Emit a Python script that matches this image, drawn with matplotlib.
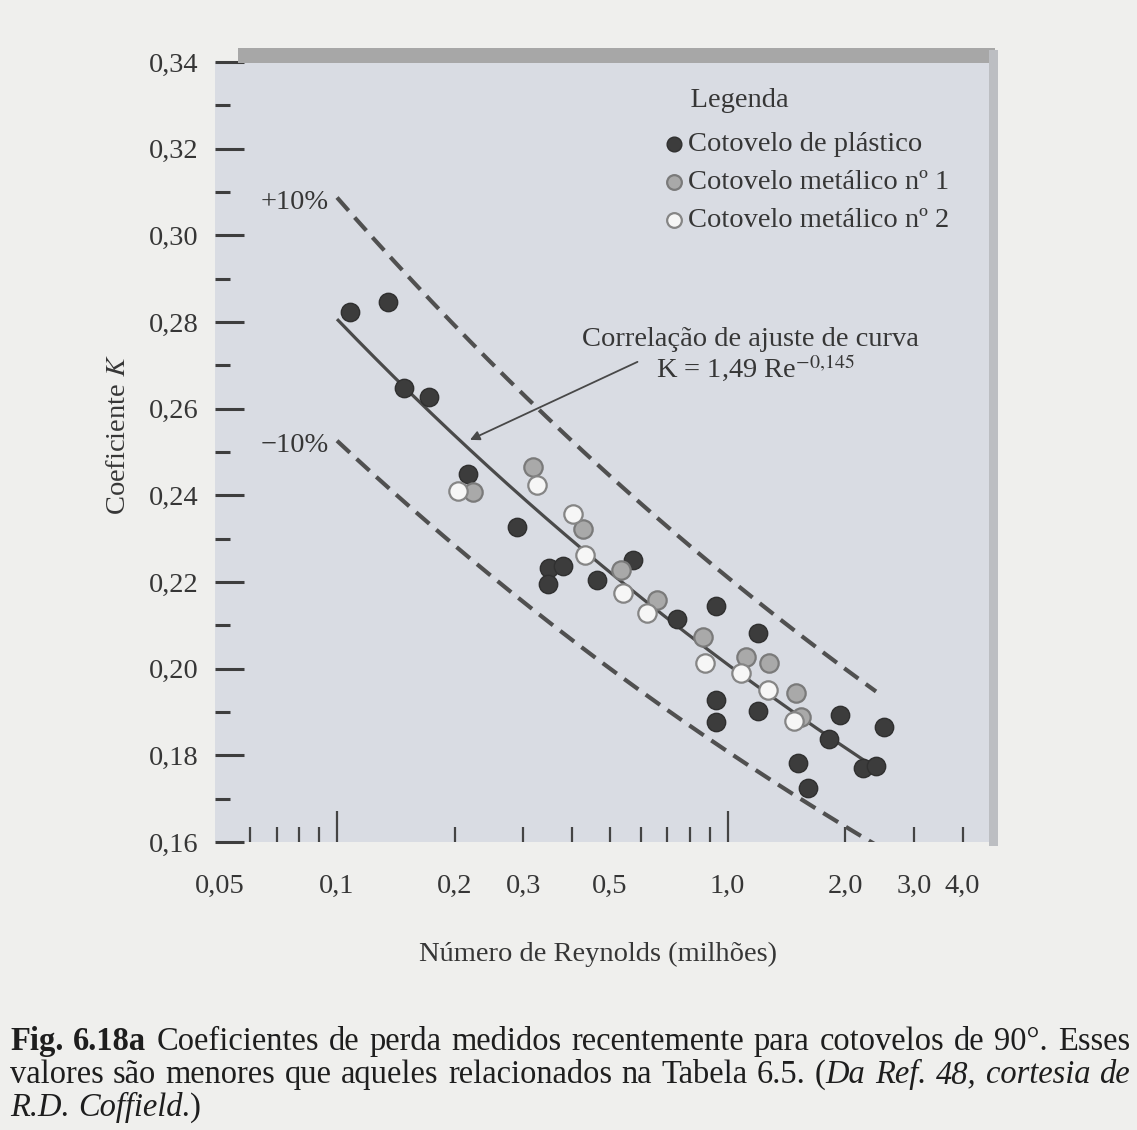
import matplotlib
matplotlib.use("Agg")
import matplotlib.pyplot as plt
import numpy as np
from matplotlib.ticker import FixedLocator, FixedFormatter, NullFormatter
from matplotlib.patches import Rectangle

plt.rcParams['font.family'] = ['Liberation Serif', 'DejaVu Serif']
plt.rcParams['mathtext.fontset'] = 'stix'

# ---------------- data (Re in millions, K) ----------------
plastic_re = [0.108, 0.135, 0.148, 0.172, 0.217, 0.289, 0.348, 0.378, 0.346, 0.464,
              0.571, 0.744, 0.932, 0.935, 0.935, 1.194, 1.194, 1.512, 1.604, 1.815,
              1.938, 2.219, 2.396, 2.512]
plastic_k = [0.2823, 0.2846, 0.2648, 0.2627, 0.2449, 0.2327, 0.2232, 0.2237, 0.2195, 0.2205,
             0.2251, 0.2115, 0.2145, 0.1928, 0.1877, 0.2082, 0.1902, 0.1782, 0.1725, 0.1838,
             0.1893, 0.1771, 0.1775, 0.1865]
metal1_re = [0.223, 0.318, 0.427, 0.532, 0.658, 0.863, 1.112, 1.274, 1.494, 1.539]
metal1_k = [0.2408, 0.2465, 0.2322, 0.2228, 0.2159, 0.2073, 0.2027, 0.2013, 0.1944, 0.1888]
metal2_re = [0.204, 0.326, 0.403, 0.432, 0.541, 0.623, 0.873, 1.080, 1.266, 1.476]
metal2_k = [0.2410, 0.2424, 0.2357, 0.2262, 0.2175, 0.2129, 0.2013, 0.1990, 0.1951, 0.1879]

series_labels = ["Cotovelo de plástico", "Cotovelo metálico nº 1", "Cotovelo metálico nº 2"]

fit_coef = 1.49
fit_exp = -0.145
fit_re_start = 0.1
fit_re_end = 2.4
band_frac = 0.10

x_major = [0.05, 0.1, 0.2, 0.3, 0.5, 1.0, 2.0, 3.0, 4.0]
x_labels = ['0,05', '0,1', '0,2', '0,3', '0,5', '1,0', '2,0', '3,0', '4,0']
x_long = [0.1, 1.0]
x_minor = [0.06, 0.07, 0.08, 0.09, 0.4, 0.6, 0.7, 0.8, 0.9]
y_major = [0.16, 0.18, 0.20, 0.22, 0.24, 0.26, 0.28, 0.30, 0.32, 0.34]
y_labels = ['0,16', '0,18', '0,20', '0,22', '0,24', '0,26', '0,28', '0,30', '0,32', '0,34']
y_minor = [0.17, 0.19, 0.21, 0.23, 0.25, 0.27, 0.29, 0.31, 0.33]

# ---------------- figure ----------------
W, H = 1137, 1130
FS = 20.5
TXT = '#363636'
fig = plt.figure(figsize=(W / 100, H / 100), dpi=100, facecolor='#efefed')


def frac_rect(x0, y0, x1, y1):
    return [x0 / W, 1 - y1 / H, (x1 - x0) / W, (y1 - y0) / H]


# decorative top bar and right strip of the printed chart
fig.patches.append(Rectangle((238 / W, 1 - 63 / H), (995 - 238) / W, 15 / H,
                             transform=fig.transFigure, facecolor='#a7a7a7',
                             edgecolor='none', zorder=0))
fig.patches.append(Rectangle((989 / W, 1 - 846 / H), 9 / W, (846 - 50) / H,
                             transform=fig.transFigure, facecolor='#bcbec2',
                             edgecolor='none', zorder=0))

ax = fig.add_axes(frac_rect(215, 62, 990, 842))
ax.set_facecolor('#d9dce3')
for s in ax.spines.values():
    s.set_visible(False)

ax.set_xscale('log')
ax.set_xlim(0.0487, 4.70)
ax.set_ylim(0.16, 0.34)

# fitted curve and +/-10% band
re_line = np.geomspace(fit_re_start, fit_re_end, 200)
k_line = fit_coef * (re_line * 1e6) ** fit_exp
ax.plot(re_line, k_line, color='#4a4a4a', lw=2.3, zorder=2, solid_capstyle='butt')
ax.plot(re_line, k_line * (1 + band_frac), color='#505050', lw=3.0,
        dashes=(4.2, 2.2), zorder=2)
ax.plot(re_line, k_line * (1 - band_frac), color='#505050', lw=3.0,
        dashes=(4.2, 2.2), zorder=2)

# data points
ms = 175
h_p = ax.scatter(plastic_re, plastic_k, s=ms, facecolor='#3c3c3c', edgecolor='#303030',
                 linewidth=1.0, zorder=3, label=series_labels[0])
h_m1 = ax.scatter(metal1_re, metal1_k, s=ms, facecolor='#a9a9a9', edgecolor='#7a7a7a',
                  linewidth=1.6, zorder=4, label=series_labels[1])
h_m2 = ax.scatter(metal2_re, metal2_k, s=ms, facecolor='#f6f6f6', edgecolor='#858585',
                  linewidth=1.6, zorder=5, label=series_labels[2])

# ticks
ax.xaxis.set_major_locator(FixedLocator(x_major))
ax.xaxis.set_major_formatter(FixedFormatter(x_labels))
ax.xaxis.set_minor_locator(FixedLocator(x_minor))
ax.xaxis.set_minor_formatter(NullFormatter())
ax.yaxis.set_major_locator(FixedLocator(y_major))
ax.yaxis.set_major_formatter(FixedFormatter(y_labels))
ax.yaxis.set_minor_locator(FixedLocator(y_minor))
ax.yaxis.set_minor_formatter(NullFormatter())

ax.tick_params(axis='x', which='both', direction='in', pad=23, labelsize=FS,
               colors='#444444', labelcolor=TXT, width=1.6)
ax.tick_params(axis='x', which='minor', length=11)
ax.tick_params(axis='x', which='major', length=11)
ax.tick_params(axis='y', which='both', direction='in', pad=12, labelsize=FS,
               colors='#3e3e3e', labelcolor=TXT, width=2.2)
ax.tick_params(axis='y', which='major', length=21)
ax.tick_params(axis='y', which='minor', length=11)

for tk, v in zip(ax.xaxis.get_major_ticks(), x_major):
    if v in x_long:
        tk.tick1line.set_markersize(22)
    elif v == 0.05:
        tk.tick1line.set_markersize(0)
    else:
        tk.tick1line.set_markersize(11)

ax.set_xlabel('Número de Reynolds (milhões)', fontsize=FS, color=TXT)
ax.xaxis.set_label_coords(0.494, -0.128)
ax.set_ylabel('Coeficiente $K$', fontsize=FS, color=TXT)
ax.yaxis.set_label_coords(-0.108, 0.522)

# band labels
ax.text(0.0781, 0.3075, '+10%', fontsize=FS, color=TXT, ha='center', va='center')
ax.text(0.0781, 0.2516, '\u221210%', fontsize=FS, color=TXT, ha='center', va='center')

# curve annotation
ax.text(1.144, 0.2759, 'Correlação de ajuste de curva', fontsize=FS, color=TXT,
        ha='center', va='center')
ax.text(0.654, 0.2694, 'K = 1,49 Re$^{\\mathrm{-0{,}145}}$', fontsize=FS, color=TXT,
        ha='left', va='center')
ax.annotate('', xy=(0.219, 0.2528), xytext=(0.588, 0.2708),
            arrowprops=dict(arrowstyle='-|>', color='#484848', lw=1.3,
                            mutation_scale=14, shrinkA=0, shrinkB=0))

# legend
leg = ax.legend(handles=[h_p, h_m1, h_m2], labels=series_labels, loc='upper left',
                bbox_to_anchor=(0.577, 0.967), frameon=False,
                title='    Legenda', alignment='left', fontsize=FS, title_fontsize=FS,
                handletextpad=0.1, labelspacing=0.43, borderpad=0, borderaxespad=0,
                handlelength=0.8, scatterpoints=1, markerscale=0.8)
try:
    leg._legend_box.sep = 13.2  # extra gap between title and entries
except Exception:
    pass
for t in leg.get_texts():
    t.set_color(TXT)
leg.get_title().set_color(TXT)

# ---------------- caption (justified, mixed styles) ----------------
renderer = fig.canvas.get_renderer()
REG = dict(color='#1e1e1e')
BOLD = dict(color='#1e1e1e', weight='bold')
ITAL = dict(color='#1e1e1e', style='italic')

cap_line1 = [[("Fig.", BOLD)], [("6.18a", BOLD)]] + \
    [[(w, REG)] for w in "Coeficientes de perda medidos recentemente para cotovelos de 90°. Esses".split()]
cap_line2 = [[(w, REG)] for w in "valores são menores que aqueles relacionados na Tabela 6.5.".split()] + \
    [[("(", REG), ("Da", ITAL)]] + [[(w, ITAL)] for w in "Ref. 48, cortesia de".split()]
cap_line3 = [[("R.D.", ITAL)], [("Coffield.", ITAL), (")", REG)]]


def piece_width(txt, st, size):
    t = fig.text(0, 0, txt, fontsize=size, **st)
    w = t.get_window_extent(renderer).width
    t.remove()
    return w


def space_width(size):
    return piece_width("a a", REG, size) - piece_width("aa", REG, size)


def line_width(words, size):
    return sum(piece_width(p, s, size) for w in words for p, s in w)


# choose caption font size so the longest line nearly fills the width
base = 21.0
nat2 = line_width(cap_line2, base) + space_width(base) * (len(cap_line2) - 1)
CFS = base * 1105.0 / nat2


def draw_line(words, x0, x1, ybase, size, justify=True):
    widths = [sum(piece_width(p, s, size) for p, s in w) for w in words]
    if justify and len(words) > 1:
        gap = (x1 - x0 - sum(widths)) / (len(words) - 1)
    else:
        gap = space_width(size)
    x = x0
    for w, wd in zip(words, widths):
        xx = x
        for p, s in w:
            fig.text(xx / W, 1 - ybase / H, p, fontsize=size, ha='left', va='baseline', **s)
            xx += piece_width(p, s, size)
        x += wd + gap


draw_line(cap_line1, 10, 1130, 1050, CFS)
draw_line(cap_line2, 10, 1130, 1083, CFS)
draw_line(cap_line3, 10, 1130, 1116, CFS, justify=False)

fig.savefig('out.png', dpi=100, facecolor=fig.get_facecolor())
